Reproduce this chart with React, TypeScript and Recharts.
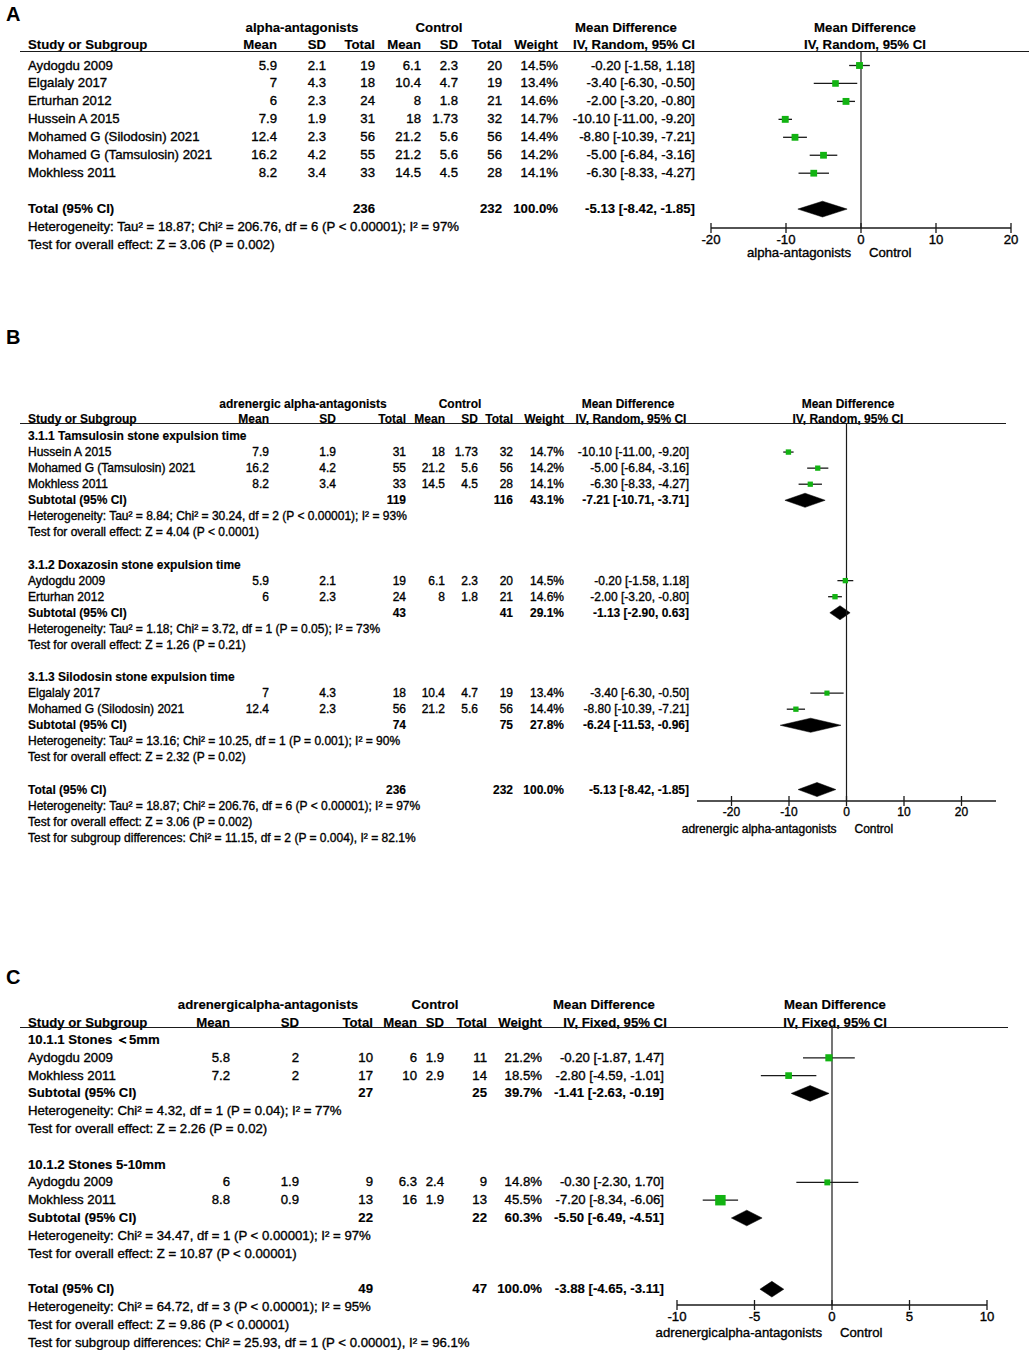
import React from "react"
import {
    ComposedChart,
    Scatter,
    ErrorBar,
    Area,
    XAxis,
    YAxis,
    ReferenceLine
} from "recharts"

// name, exp mean, exp SD, exp total, ctl mean, ctl SD, ctl total, weight %, MD, lower, upper
type Study = [string, number, number, number, number, number, number, number, number, number, number]
// label, exp total, ctl total, weight %, MD, lower, upper
type Summary = [string, number, number, number, number, number, number]

// ---------- panel A ----------
const studiesA: Study[] = [
    ["Aydogdu 2009", 5.9, 2.1, 19, 6.1, 2.3, 20, 14.5, -0.2, -1.58, 1.18],
    ["Elgalaly 2017", 7, 4.3, 18, 10.4, 4.7, 19, 13.4, -3.4, -6.3, -0.5],
    ["Erturhan 2012", 6, 2.3, 24, 8, 1.8, 21, 14.6, -2.0, -3.2, -0.8],
    ["Hussein A 2015", 7.9, 1.9, 31, 18, 1.73, 32, 14.7, -10.1, -11.0, -9.2],
    ["Mohamed G (Silodosin) 2021", 12.4, 2.3, 56, 21.2, 5.6, 56, 14.4, -8.8, -10.39, -7.21],
    ["Mohamed G (Tamsulosin) 2021", 16.2, 4.2, 55, 21.2, 5.6, 56, 14.2, -5.0, -6.84, -3.16],
    ["Mokhless 2011", 8.2, 3.4, 33, 14.5, 4.5, 28, 14.1, -6.3, -8.33, -4.27]
]
const totalA: Summary = ["Total (95% CI)", 236, 232, 100, -5.13, -8.42, -1.85]
const notesA = [
    "Heterogeneity: Tau² = 18.87; Chi² = 206.76, df = 6 (P < 0.00001); I² = 97%",
    "Test for overall effect: Z = 3.06 (P = 0.002)"
]

// ---------- panel B ----------
const tamsulosinB: Study[] = [
    ["Hussein A 2015", 7.9, 1.9, 31, 18, 1.73, 32, 14.7, -10.1, -11.0, -9.2],
    ["Mohamed G (Tamsulosin) 2021", 16.2, 4.2, 55, 21.2, 5.6, 56, 14.2, -5.0, -6.84, -3.16],
    ["Mokhless 2011", 8.2, 3.4, 33, 14.5, 4.5, 28, 14.1, -6.3, -8.33, -4.27]
]
const tamsulosinSubB: Summary = ["Subtotal (95% CI)", 119, 116, 43.1, -7.21, -10.71, -3.71]
const tamsulosinNotesB = [
    "Heterogeneity: Tau² = 8.84; Chi² = 30.24, df = 2 (P < 0.00001); I² = 93%",
    "Test for overall effect: Z = 4.04 (P < 0.0001)"
]
const doxazosinB: Study[] = [
    ["Aydogdu 2009", 5.9, 2.1, 19, 6.1, 2.3, 20, 14.5, -0.2, -1.58, 1.18],
    ["Erturhan 2012", 6, 2.3, 24, 8, 1.8, 21, 14.6, -2.0, -3.2, -0.8]
]
const doxazosinSubB: Summary = ["Subtotal (95% CI)", 43, 41, 29.1, -1.13, -2.9, 0.63]
const doxazosinNotesB = [
    "Heterogeneity: Tau² = 1.18; Chi² = 3.72, df = 1 (P = 0.05); I² = 73%",
    "Test for overall effect: Z = 1.26 (P = 0.21)"
]
const silodosinB: Study[] = [
    ["Elgalaly 2017", 7, 4.3, 18, 10.4, 4.7, 19, 13.4, -3.4, -6.3, -0.5],
    ["Mohamed G (Silodosin) 2021", 12.4, 2.3, 56, 21.2, 5.6, 56, 14.4, -8.8, -10.39, -7.21]
]
const silodosinSubB: Summary = ["Subtotal (95% CI)", 74, 75, 27.8, -6.24, -11.53, -0.96]
const silodosinNotesB = [
    "Heterogeneity: Tau² = 13.16; Chi² = 10.25, df = 1 (P = 0.001); I² = 90%",
    "Test for overall effect: Z = 2.32 (P = 0.02)"
]
const totalB: Summary = ["Total (95% CI)", 236, 232, 100, -5.13, -8.42, -1.85]
const notesB = [
    "Heterogeneity: Tau² = 18.87; Chi² = 206.76, df = 6 (P < 0.00001); I² = 97%",
    "Test for overall effect: Z = 3.06 (P = 0.002)",
    "Test for subgroup differences: Chi² = 11.15, df = 2 (P = 0.004), I² = 82.1%"
]

// ---------- panel C ----------
const smallC: Study[] = [
    ["Aydogdu 2009", 5.8, 2, 10, 6, 1.9, 11, 21.2, -0.2, -1.87, 1.47],
    ["Mokhless 2011", 7.2, 2, 17, 10, 2.9, 14, 18.5, -2.8, -4.59, -1.01]
]
const smallSubC: Summary = ["Subtotal (95% CI)", 27, 25, 39.7, -1.41, -2.63, -0.19]
const smallNotesC = [
    "Heterogeneity: Chi² = 4.32, df = 1 (P = 0.04); I² = 77%",
    "Test for overall effect: Z = 2.26 (P = 0.02)"
]
const largeC: Study[] = [
    ["Aydogdu 2009", 6, 1.9, 9, 6.3, 2.4, 9, 14.8, -0.3, -2.3, 1.7],
    ["Mokhless 2011", 8.8, 0.9, 13, 16, 1.9, 13, 45.5, -7.2, -8.34, -6.06]
]
const largeSubC: Summary = ["Subtotal (95% CI)", 22, 22, 60.3, -5.5, -6.49, -4.51]
const largeNotesC = [
    "Heterogeneity: Chi² = 34.47, df = 1 (P < 0.00001); I² = 97%",
    "Test for overall effect: Z = 10.87 (P < 0.00001)"
]
const totalC: Summary = ["Total (95% CI)", 49, 47, 100, -3.88, -4.65, -3.11]
const notesC = [
    "Heterogeneity: Chi² = 64.72, df = 3 (P < 0.00001); I² = 95%",
    "Test for overall effect: Z = 9.86 (P < 0.00001)",
    "Test for subgroup differences: Chi² = 25.93, df = 1 (P < 0.00001), I² = 96.1%"
]

const ticksA = [-20, -10, 0, 10, 20]
const ticksB = [-20, -10, 0, 10, 20]
const ticksC = [-10, -5, 0, 5, 10]

type Line =
    | { kind: "blank" }
    | { kind: "heading"; text: string }
    | { kind: "study"; s: Study }
    | { kind: "summary"; s: Summary }
    | { kind: "note"; text: string }

type Group = { title: string; studies: Study[]; sub: Summary; notes: string[] }

function buildLines(groups: Group[] | null, plain: Study[], total: Summary, notes: string[]): Line[] {
    const out: Line[] = []
    if (groups) {
        groups.forEach((g) => {
            out.push({ kind: "heading", text: g.title })
            g.studies.forEach((s) => out.push({ kind: "study", s }))
            out.push({ kind: "summary", s: g.sub })
            g.notes.forEach((text) => out.push({ kind: "note", text }))
            out.push({ kind: "blank" })
        })
    } else {
        plain.forEach((s) => out.push({ kind: "study", s }))
        out.push({ kind: "blank" })
    }
    out.push({ kind: "summary", s: total })
    notes.forEach((text) => out.push({ kind: "note", text }))
    return out
}

const linesA = buildLines(null, studiesA, totalA, notesA)
const linesB = buildLines(
    [
        { title: "3.1.1 Tamsulosin stone expulsion time", studies: tamsulosinB, sub: tamsulosinSubB, notes: tamsulosinNotesB },
        { title: "3.1.2 Doxazosin stone expulsion time", studies: doxazosinB, sub: doxazosinSubB, notes: doxazosinNotesB },
        { title: "3.1.3 Silodosin stone expulsion time", studies: silodosinB, sub: silodosinSubB, notes: silodosinNotesB }
    ],
    [],
    totalB,
    notesB
)
const linesC = buildLines(
    [
        { title: "10.1.1 Stones ＜5mm", studies: smallC, sub: smallSubC, notes: smallNotesC },
        { title: "10.1.2 Stones 5-10mm", studies: largeC, sub: largeSubC, notes: largeNotesC }
    ],
    [],
    totalC,
    notesC
)

const GREEN = "#12b312"
const INK = "#1a1a1a"
const FONT = '"Liberation Sans", Arial, Helvetica, sans-serif'

type Layout = {
    letter: string
    letterY: number
    font: number
    head1Y: number
    head2Y: number
    ruleY: number
    ruleX2: number
    rowY0: number
    rowH: number
    col: { eMean: number; eSd: number; eN: number; cMean: number; cSd: number; cN: number; weight: number; ci: number }
    grpX: number
    ctlX: number
    mdHeadX: number
    ciHeadX: number
    plotHeadX: number
    plotX1: number
    plotX2: number
    axisY: number
    domain: [number, number]
    ticks: number[]
    group: string
    method: string
    favY: number
    sq: number
}

const layoutA: Layout = {
    letter: "A", letterY: 14, font: 13.2,
    head1Y: 28, head2Y: 45, ruleY: 52, ruleX2: 1029,
    rowY0: 65.5, rowH: 17.95,
    col: { eMean: 277, eSd: 326, eN: 375, cMean: 421, cSd: 458, cN: 502, weight: 558, ci: 695 },
    grpX: 302, ctlX: 439, mdHeadX: 626, ciHeadX: 634, plotHeadX: 865,
    plotX1: 711, plotX2: 1011, axisY: 228, domain: [-20, 20], ticks: ticksA,
    group: "alpha-antagonists", method: "IV, Random, 95% CI", favY: 253, sq: 1.8
}
const layoutB: Layout = {
    letter: "B", letterY: 337, font: 12,
    head1Y: 404, head2Y: 419, ruleY: 424, ruleX2: 1006,
    rowY0: 436, rowH: 16.07,
    col: { eMean: 269, eSd: 336, eN: 406, cMean: 445, cSd: 478, cN: 513, weight: 564, ci: 689 },
    grpX: 303, ctlX: 460, mdHeadX: 628, ciHeadX: 631, plotHeadX: 848,
    plotX1: 697, plotX2: 996, axisY: 801, domain: [-26, 26], ticks: ticksB,
    group: "adrenergic alpha-antagonists", method: "IV, Random, 95% CI", favY: 829, sq: 1.4
}
const layoutC: Layout = {
    letter: "C", letterY: 977, font: 13.2,
    head1Y: 1005, head2Y: 1023, ruleY: 1028, ruleX2: 1008,
    rowY0: 1040, rowH: 17.8,
    col: { eMean: 230, eSd: 299, eN: 373, cMean: 417, cSd: 444, cN: 487, weight: 542, ci: 664 },
    grpX: 268, ctlX: 435, mdHeadX: 604, ciHeadX: 615, plotHeadX: 835,
    plotX1: 677, plotX2: 987, axisY: 1305, domain: [-10, 10], ticks: ticksC,
    group: "adrenergicalpha-antagonists", method: "IV, Fixed, 95% CI", favY: 1333, sq: 1.55
}

function Txt({
    x, y, size, bold, align = "left", children
}: {
    x: number; y: number; size: number; bold?: boolean; align?: "left" | "right" | "center"; children: React.ReactNode
}) {
    const w = 700
    const left = align === "left" ? x : align === "right" ? x - w : x - w / 2
    return (
        <div
            style={{
                position: "absolute", left, top: y - 10, width: w, height: 20, lineHeight: "20px",
                fontSize: size, fontWeight: bold ? 700 : 400, textAlign: align, whiteSpace: "nowrap", color: "#000",
                WebkitTextStroke: bold ? "0.15px #000" : "0.35px #000"
            }}
        >
            {children}
        </div>
    )
}

const ci = (md: number, lo: number, hi: number) => `${md.toFixed(2)} [${lo.toFixed(2)}, ${hi.toFixed(2)}]`

function AxisTick(props: any) {
    const { x, y, payload, fs } = props
    return (
        <g>
            <line x1={x} x2={x} y1={y - 5} y2={y + 5} stroke={INK} strokeWidth={1.3} />
            <text
                x={x}
                y={y + 11}
                textAnchor="middle"
                dominantBaseline="central"
                fontSize={fs}
                fontFamily={FONT}
                fill="#000"
                stroke="#000"
                strokeWidth={0.35}
            >
                {payload.value}
            </text>
        </g>
    )
}

function ForestPanel({ L, lines }: { L: Layout; lines: Line[] }) {
    const rowY = (i: number) => L.rowY0 + i * L.rowH
    const c = L.col
    const fs = L.font
    const zeroX = L.plotX1 + ((0 - L.domain[0]) / (L.domain[1] - L.domain[0])) * (L.plotX2 - L.plotX1)

    const points: any[] = []
    const diamonds: any[][] = []
    lines.forEach((ln, i) => {
        if (ln.kind === "study") {
            const [, , , , , , , w, md, lo, hi] = ln.s
            points.push({ x: md, y: i, w, err: [md - lo, hi - md] })
        }
        if (ln.kind === "summary") {
            const [, , , , md, lo, hi] = ln.s
            const h = 0.44
            diamonds.push([
                { x: lo, band: [i, i] },
                { x: md, band: [i - h, i + h] },
                { x: hi, band: [i, i] }
            ])
        }
    })

    const PAD = 24
    const xAxisH = 30
    const yDomain: [number, number] = [(L.ruleY - L.rowY0) / L.rowH, (L.axisY - L.rowY0) / L.rowH]

    const square = (p: any) => {
        const s = L.sq * Math.sqrt(p.payload.w)
        return <rect x={p.cx - s / 2} y={p.cy - s / 2} width={s} height={s} fill={GREEN} />
    }

    return (
        <>
            <div style={{ position: "absolute", left: 6, top: L.letterY - 12, fontSize: 20, fontWeight: 700, lineHeight: "24px" }}>
                {L.letter}
            </div>

            <Txt x={L.grpX} y={L.head1Y} size={fs} bold align="center">{L.group}</Txt>
            <Txt x={L.ctlX} y={L.head1Y} size={fs} bold align="center">Control</Txt>
            <Txt x={L.mdHeadX} y={L.head1Y} size={fs} bold align="center">Mean Difference</Txt>
            <Txt x={L.plotHeadX} y={L.head1Y} size={fs} bold align="center">Mean Difference</Txt>

            <Txt x={28} y={L.head2Y} size={fs} bold>Study or Subgroup</Txt>
            <Txt x={c.eMean} y={L.head2Y} size={fs} bold align="right">Mean</Txt>
            <Txt x={c.eSd} y={L.head2Y} size={fs} bold align="right">SD</Txt>
            <Txt x={c.eN} y={L.head2Y} size={fs} bold align="right">Total</Txt>
            <Txt x={c.cMean} y={L.head2Y} size={fs} bold align="right">Mean</Txt>
            <Txt x={c.cSd} y={L.head2Y} size={fs} bold align="right">SD</Txt>
            <Txt x={c.cN} y={L.head2Y} size={fs} bold align="right">Total</Txt>
            <Txt x={c.weight} y={L.head2Y} size={fs} bold align="right">Weight</Txt>
            <Txt x={L.ciHeadX} y={L.head2Y} size={fs} bold align="center">{L.method}</Txt>
            <Txt x={L.plotHeadX} y={L.head2Y} size={fs} bold align="center">{L.method}</Txt>

            <div style={{ position: "absolute", left: 20, top: L.ruleY - 0.75, width: L.ruleX2 - 20, height: 0, borderTop: `1.5px solid ${INK}` }} />

            {lines.map((ln, i) => {
                const y = rowY(i)
                if (ln.kind === "heading") return <Txt key={i} x={28} y={y} size={fs} bold>{ln.text}</Txt>
                if (ln.kind === "note") return <Txt key={i} x={28} y={y} size={fs}>{ln.text}</Txt>
                if (ln.kind === "study") {
                    const [name, em, es, en, cm, cs, cn, w, md, lo, hi] = ln.s
                    return (
                        <React.Fragment key={i}>
                            <Txt x={28} y={y} size={fs}>{name}</Txt>
                            <Txt x={c.eMean} y={y} size={fs} align="right">{em}</Txt>
                            <Txt x={c.eSd} y={y} size={fs} align="right">{es}</Txt>
                            <Txt x={c.eN} y={y} size={fs} align="right">{en}</Txt>
                            <Txt x={c.cMean} y={y} size={fs} align="right">{cm}</Txt>
                            <Txt x={c.cSd} y={y} size={fs} align="right">{cs}</Txt>
                            <Txt x={c.cN} y={y} size={fs} align="right">{cn}</Txt>
                            <Txt x={c.weight} y={y} size={fs} align="right">{w.toFixed(1)}%</Txt>
                            <Txt x={c.ci} y={y} size={fs} align="right">{ci(md, lo, hi)}</Txt>
                        </React.Fragment>
                    )
                }
                if (ln.kind === "summary") {
                    const [label, en, cn, w, md, lo, hi] = ln.s
                    return (
                        <React.Fragment key={i}>
                            <Txt x={28} y={y} size={fs} bold>{label}</Txt>
                            <Txt x={c.eN} y={y} size={fs} bold align="right">{en}</Txt>
                            <Txt x={c.cN} y={y} size={fs} bold align="right">{cn}</Txt>
                            <Txt x={c.weight} y={y} size={fs} bold align="right">{w.toFixed(1)}%</Txt>
                            <Txt x={c.ci} y={y} size={fs} bold align="right">{ci(md, lo, hi)}</Txt>
                        </React.Fragment>
                    )
                }
                return null
            })}

            <div style={{ position: "absolute", left: L.plotX1 - PAD, top: L.ruleY }}>
                <ComposedChart
                    width={L.plotX2 - L.plotX1 + 2 * PAD}
                    height={L.axisY - L.ruleY + xAxisH}
                    margin={{ top: 0, right: PAD, bottom: 0, left: PAD }}
                >
                    <XAxis
                        type="number"
                        dataKey="x"
                        domain={L.domain}
                        ticks={L.ticks}
                        interval={0}
                        allowDataOverflow
                        height={xAxisH}
                        tickLine={false}
                        tickSize={0}
                        tickMargin={0}
                        axisLine={{ stroke: INK, strokeWidth: 1.4 }}
                        tick={<AxisTick fs={fs} />}
                    />
                    <YAxis type="number" dataKey="y" domain={yDomain} reversed hide allowDataOverflow />
                    <ReferenceLine x={0} stroke={INK} strokeWidth={1.2} />
                    {diamonds.map((d, k) => (
                        <Area
                            key={k}
                            data={d}
                            dataKey="band"
                            type="linear"
                            stroke="#000"
                            strokeWidth={0.5}
                            fill="#000"
                            fillOpacity={1}
                            dot={false}
                            activeDot={false}
                            isAnimationActive={false}
                        />
                    ))}
                    <Scatter data={points} shape={square} isAnimationActive={false}>
                        <ErrorBar dataKey="err" direction="x" width={0} stroke={INK} strokeWidth={1.3} />
                    </Scatter>
                </ComposedChart>
            </div>

            <Txt x={zeroX - 10} y={L.favY} size={fs} align="right">{L.group}</Txt>
            <Txt x={zeroX + 8} y={L.favY} size={fs}>Control</Txt>
        </>
    )
}

export default function App() {
    return (
        <div
            style={{
                position: "absolute", left: 0, top: 0, width: 1031, height: 1350, overflow: "hidden",
                background: "#fff", fontFamily: FONT, color: "#000"
            }}
        >
            <ForestPanel L={layoutA} lines={linesA} />
            <ForestPanel L={layoutB} lines={linesB} />
            <ForestPanel L={layoutC} lines={linesC} />
        </div>
    )
}
